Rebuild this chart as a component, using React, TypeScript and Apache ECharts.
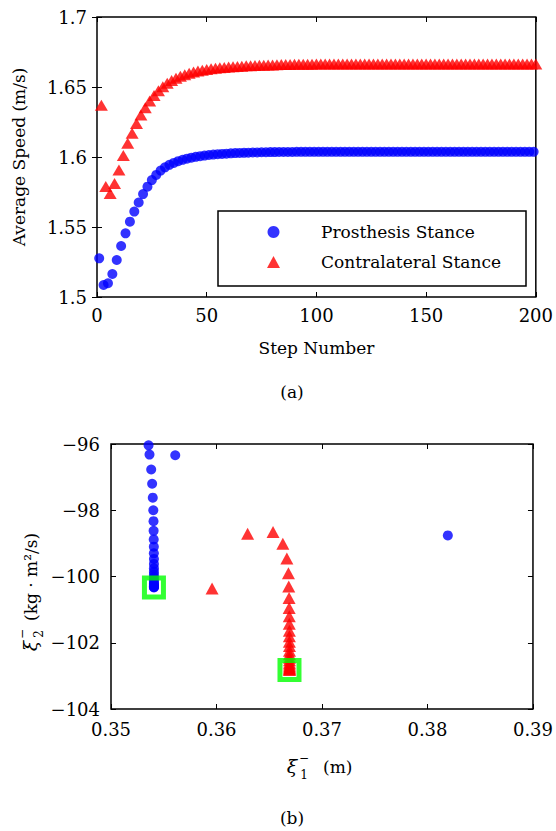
import React, { useEffect, useRef } from "react";
import * as echarts from "echarts";

// ---------- Panel (a): average speed vs step number ----------
// Prosthesis stance occurs at odd steps 1,3,...,199; contralateral at even steps 2,...,200
const prosthesisSpeed = [
  1.5276, 1.5086, 1.5098, 1.5164, 1.5264, 1.5364, 1.5455, 1.5538, 1.561, 1.5675,
  1.5735, 1.5788, 1.5835, 1.5872, 1.5903, 1.5926, 1.5944, 1.5958, 1.597, 1.598,
  1.5988, 1.5995, 1.6001, 1.6006, 1.601, 1.6014, 1.6017, 1.602, 1.6022, 1.6024,
  1.6026, 1.6028, 1.6029, 1.603, 1.6031, 1.6032, 1.6033, 1.6034, 1.6034, 1.6035,
  1.6035, 1.6036, 1.6036, 1.6036, 1.6036, 1.6037, 1.6037, 1.6037, 1.6037, 1.6037,
  1.6037, 1.6037, 1.6037, 1.6037, 1.6037, 1.6037, 1.6037, 1.6037, 1.6037, 1.6037,
  1.6037, 1.6037, 1.6037, 1.6037, 1.6037, 1.6037, 1.6037, 1.6037, 1.6037, 1.6037,
  1.6037, 1.6037, 1.6037, 1.6037, 1.6037, 1.6037, 1.6037, 1.6037, 1.6037, 1.6037,
  1.6037, 1.6037, 1.6037, 1.6037, 1.6037, 1.6037, 1.6037, 1.6037, 1.6037, 1.6037,
  1.6037, 1.6037, 1.6037, 1.6037, 1.6037, 1.6037, 1.6037, 1.6037, 1.6037, 1.6037,
];
const contralateralSpeed = [
  1.637, 1.579, 1.574, 1.581, 1.5907, 1.601, 1.6098, 1.617, 1.624, 1.63,
  1.6352, 1.64, 1.644, 1.6474, 1.6502, 1.6526, 1.6546, 1.6562, 1.6576, 1.6588,
  1.6598, 1.6607, 1.6614, 1.662, 1.6625, 1.663, 1.6634, 1.6637, 1.664, 1.6643,
  1.6645, 1.6647, 1.6649, 1.6651, 1.6652, 1.6654, 1.6655, 1.6656, 1.6657, 1.6658,
  1.6659, 1.666, 1.6661, 1.6661, 1.6662, 1.6662, 1.6663, 1.6663, 1.6663, 1.6664,
  1.6664, 1.6664, 1.6664, 1.6665, 1.6665, 1.6665, 1.6665, 1.6665, 1.6665, 1.6665,
  1.6665, 1.6665, 1.6665, 1.6665, 1.6665, 1.6665, 1.6665, 1.6665, 1.6665, 1.6665,
  1.6665, 1.6665, 1.6665, 1.6665, 1.6665, 1.6665, 1.6665, 1.6665, 1.6665, 1.6665,
  1.6665, 1.6665, 1.6665, 1.6665, 1.6665, 1.6665, 1.6665, 1.6665, 1.6665, 1.6665,
  1.6665, 1.6665, 1.6665, 1.6665, 1.6665, 1.6665, 1.6665, 1.6665, 1.6665, 1.6665,
];

// ---------- Panel (b): xi1- vs xi2- ----------
const prosthesisXi1 = [
  0.38193, 0.35609, 0.35356, 0.35365, 0.35381, 0.3539, 0.35396, 0.35401, 0.35403, 0.35404,
  0.35405, 0.35406, 0.35406, 0.35407, 0.35407, 0.35407, 0.35407, 0.35407, 0.35407, 0.35407,
  0.35407, 0.35407, 0.35407, 0.35407, 0.35407, 0.35407, 0.35407, 0.35407,
];
const prosthesisXi2 = [
  -98.76, -96.34, -96.04, -96.32, -96.77, -97.2, -97.62, -98.0, -98.33, -98.62,
  -98.88, -99.1, -99.3, -99.47, -99.62, -99.75, -99.86, -99.95, -100.03, -100.1,
  -100.16, -100.21, -100.25, -100.28, -100.3, -100.31, -100.32, -100.33,
];
const contralateralXi1 = [
  0.35958, 0.36295, 0.36536, 0.36629, 0.36667, 0.36682, 0.36685, 0.36688, 0.36689, 0.3669,
  0.3669, 0.36691, 0.36691, 0.36691, 0.36692, 0.36692, 0.36692, 0.36692, 0.36692, 0.36692,
  0.36692, 0.36692, 0.36692, 0.36692, 0.36692, 0.36692,
];
const contralateralXi2 = [
  -100.36, -98.71, -98.66, -99.01, -99.46, -99.9, -100.3, -100.65, -100.95, -101.2,
  -101.43, -101.64, -101.8, -101.97, -102.1, -102.24, -102.35, -102.45, -102.53, -102.6,
  -102.66, -102.71, -102.75, -102.78, -102.8, -102.82,
];
const fixedPointXi1 = [0.35407, 0.36692];
const fixedPointXi2 = [-100.33, -102.82];

const legendNames = ["Prosthesis Stance", "Contralateral Stance"];
const FONT = "DejaVu Serif";
const TICK_FS = 18;
const NAME_FS = 17;

export default function App() {
  const ref = useRef<HTMLDivElement>(null);
  useEffect(() => {
    if (!ref.current) return;
    const chart = echarts.init(ref.current, null, { renderer: "svg" });

    const tick = { show: true, inside: true, length: 5, lineStyle: { color: "#000", width: 1 } };
    const noLine = { show: false };
    const lbl = (margin: number, fmt: (v: number) => string) => ({
      show: true,
      margin,
      color: "#000",
      fontSize: TICK_FS,
      fontFamily: FONT,
      formatter: fmt,
    });
    const fmtA = (v: number) => String(+v.toFixed(2));
    const fmtBx = (v: number) => v.toFixed(2);
    const fmtBy = (v: number) => (v < 0 ? "\u2212" + Math.abs(Math.round(v)) : String(Math.round(v)));

    const pTop = prosthesisSpeed.map((v, i) => [2 * i + 1, v]);
    const cTop = contralateralSpeed.map((v, i) => [2 * i + 2, v]);
    const pBot = prosthesisXi1.map((x, i) => [x, prosthesisXi2[i]]);
    const cBot = contralateralXi1.map((x, i) => [x, contralateralXi2[i]]);
    const fpBot = fixedPointXi1.map((x, i) => [x, fixedPointXi2[i]]);

    const txt = (text: string, x: number, y: number, size: number, align = "center", italic = false) => ({
      type: "text",
      x,
      y,
      style: {
        text,
        fontSize: size,
        fontFamily: FONT,
        fontStyle: italic ? "italic" : "normal",
        fill: "#000",
        align,
        verticalAlign: "middle",
      },
    });

    const option: any = {
      animation: false,
      backgroundColor: "#fff",
      textStyle: { fontFamily: FONT },
      grid: [
        { left: 97, top: 17, width: 441, height: 280, show: true, borderColor: "#000", borderWidth: 1.5, backgroundColor: "transparent" },
        { left: 111, top: 444, width: 427, height: 265, show: true, borderColor: "#000", borderWidth: 1.5, backgroundColor: "transparent" },
      ],
      xAxis: [
        {
          gridIndex: 0, type: "value", min: 0, max: 200, interval: 50,
          axisLine: noLine, axisTick: tick, splitLine: noLine,
          axisLabel: lbl(9, fmtA),
          name: "Step Number", nameLocation: "middle", nameGap: 42,
          nameTextStyle: { fontSize: NAME_FS, fontFamily: FONT, color: "#000" },
        },
        {
          gridIndex: 0, type: "value", position: "top", min: 0, max: 200, interval: 50,
          axisLine: noLine, axisTick: tick, splitLine: noLine, axisLabel: { show: false },
        },
        {
          gridIndex: 1, type: "value", min: 0.35, max: 0.39, interval: 0.01,
          axisLine: noLine, axisTick: tick, splitLine: noLine,
          axisLabel: lbl(11, fmtBx),
        },
        {
          gridIndex: 1, type: "value", position: "top", min: 0.35, max: 0.39, interval: 0.01,
          axisLine: noLine, axisTick: tick, splitLine: noLine, axisLabel: { show: false },
        },
      ],
      yAxis: [
        {
          gridIndex: 0, type: "value", min: 1.5, max: 1.7, interval: 0.05,
          axisLine: noLine, axisTick: tick, splitLine: noLine,
          axisLabel: lbl(10, fmtA),
          name: "Average Speed (m/s)", nameLocation: "middle", nameGap: 70, nameRotate: 90,
          nameTextStyle: { fontSize: NAME_FS, fontFamily: FONT, color: "#000" },
        },
        {
          gridIndex: 0, type: "value", position: "right", min: 1.5, max: 1.7, interval: 0.05,
          axisLine: noLine, axisTick: tick, splitLine: noLine, axisLabel: { show: false },
        },
        {
          gridIndex: 1, type: "value", min: -104, max: -96, interval: 2,
          axisLine: noLine, axisTick: tick, splitLine: noLine,
          axisLabel: lbl(11, fmtBy),
        },
        {
          gridIndex: 1, type: "value", position: "right", min: -104, max: -96, interval: 2,
          axisLine: noLine, axisTick: tick, splitLine: noLine, axisLabel: { show: false },
        },
      ],
      legend: {
        data: legendNames,
        orient: "vertical",
        left: 267,
        top: 221,
        itemWidth: 13,
        itemHeight: 12,
        itemGap: 8,
        padding: 0,
        z: 10,
        textStyle: { fontSize: NAME_FS, fontFamily: FONT, color: "#000", lineHeight: 22, padding: [0, 0, 0, 36] },
      },
      series: [
        {
          name: legendNames[0], type: "scatter", xAxisIndex: 0, yAxisIndex: 0,
          symbol: "circle", symbolSize: 10, clip: false,
          itemStyle: { color: "#0000ff" }, data: pTop,
        },
        {
          name: legendNames[1], type: "scatter", xAxisIndex: 0, yAxisIndex: 0,
          symbol: "triangle", symbolSize: [13, 11], clip: false,
          itemStyle: { color: "#ff0000" }, data: cTop,
        },
        {
          name: legendNames[0], type: "scatter", xAxisIndex: 2, yAxisIndex: 2,
          symbol: "circle", symbolSize: 10, clip: false,
          itemStyle: { color: "#0000ff" }, data: pBot,
        },
        {
          name: legendNames[1], type: "scatter", xAxisIndex: 2, yAxisIndex: 2,
          symbol: "triangle", symbolSize: [13, 12], clip: false,
          itemStyle: { color: "#ff0000" }, data: cBot,
        },
        {
          name: "Fixed Point", type: "scatter", xAxisIndex: 2, yAxisIndex: 2,
          symbol: "rect", symbolSize: 19, clip: false, z: 5,
          itemStyle: { color: "transparent", borderColor: "#00ff00", borderWidth: 5 },
          data: fpBot,
        },
      ],
      graphic: [
        {
          type: "rect", z: 3,
          shape: { x: 218, y: 211, width: 308, height: 75 },
          style: { fill: "#fff", stroke: "#000", lineWidth: 1.5 },
        },
        txt("(a)", 292, 392, NAME_FS),
        txt("(b)", 292, 818, NAME_FS),
        // x-axis name of panel (b): xi_1^- (m)
        {
          type: "group", x: 0, y: 0,
          children: [
            txt("\u03BE", 292, 766, 19, "center", true),
            txt("\u2212", 304, 758, 12),
            txt("1", 304, 775, 12),
            txt("(m)", 323, 767, NAME_FS, "left"),
          ],
        },
        // y-axis name of panel (b): xi_2^- (kg · m^2/s)
        {
          type: "group", x: 31, y: 587, rotation: Math.PI / 2,
          children: [
            txt("\u03BE", -59, -1, 19, "center", true),
            txt("\u2212", -47, -9, 12),
            txt("2", -47, 8, 12),
            txt("(kg \u00B7 m\u00B2/s)", -34, 0, NAME_FS, "left"),
          ],
        },
      ],
    };
    chart.setOption(option);
    return () => chart.dispose();
  }, []);
  return (
    <div
      ref={ref}
      style={{ position: "absolute", left: 0, top: 0, width: 556, height: 831, background: "#fff" }}
    />
  );
}
